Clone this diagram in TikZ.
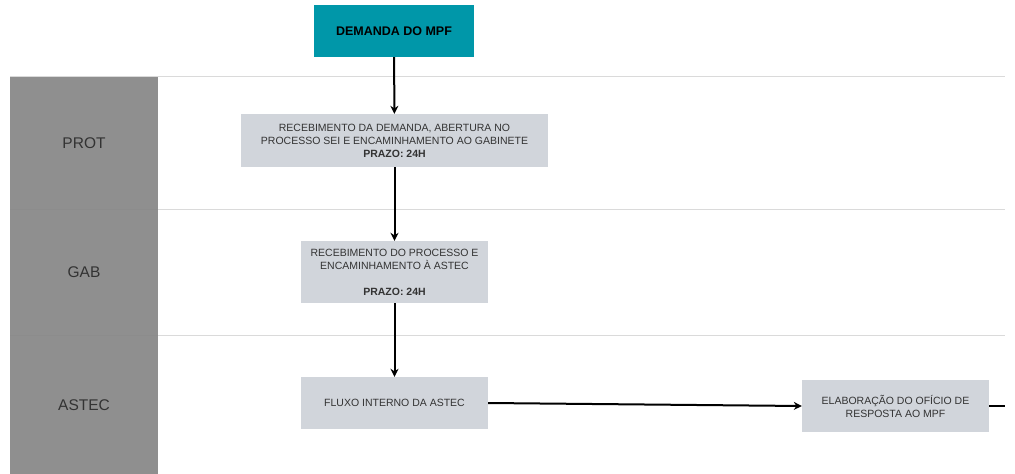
\documentclass[tikz,border=0pt]{standalone}
\usepackage{fontspec}
\setmainfont{Liberation Sans}
\usetikzlibrary{arrows.meta}

\definecolor{lanegray}{HTML}{8F8F8F}
\definecolor{rulegray}{HTML}{DADADA}
\definecolor{boxgray}{HTML}{D1D5DB}
\definecolor{demteal}{HTML}{0097A9}
\definecolor{txtgray}{HTML}{333333}

\tikzset{
  procbox/.style={fill=boxgray, text=txtgray, align=center, inner sep=0pt,
    font=\fontsize{10.5}{13}\selectfont},
  startbox/.style={fill=demteal, text=black, align=center, inner sep=0pt,
    font=\fontsize{12.5}{14}\selectfont\bfseries},
  lanelabel/.style={text=black!80, font=\fontsize{15.5}{17}\selectfont},
  flow/.style={line width=2pt, -{Stealth[length=8pt,width=8pt]}}
}

\begin{document}
\begin{tikzpicture}[x=1pt,y=-1pt] %Fluxo da demanda do MPF
            \useasboundingbox (0,0) rectangle (1015,474);

            % raias
            \fill[lanegray] (10,76) rectangle (158,474);
            \draw[rulegray, line width=1pt] (10,76) -- (1005,76);
            \draw[rulegray, line width=1pt] (158,209) -- (1005,209);
            \draw[rulegray, line width=1pt] (158,335) -- (1005,335);
            \draw[black!45, line width=0.8pt] (10,209) -- (158,209);
            \draw[black!45, line width=0.8pt] (10,335) -- (158,335);
            \node[lanelabel] (prot) at (84,143) {PROT};
            \node[lanelabel] (gab) at (84,272) {GAB};
            \node[lanelabel] (astec) at (84,405) {ASTEC};

            % etapas
            \node[startbox, minimum width=160pt, minimum height=52pt] (dem) at (394,31) {DEMANDA DO MPF};
            \node[procbox, minimum width=307pt, minimum height=53pt] (receb) at (394.5,140.5)
              {RECEBIMENTO DA DEMANDA, ABERTURA NO\\PROCESSO SEI E ENCAMINHAMENTO AO GABINETE\\\textbf{PRAZO: 24H}};
            \node[procbox, minimum width=187pt, minimum height=62pt] (encam) at (394.5,272)
              {RECEBIMENTO DO PROCESSO E\\ENCAMINHAMENTO À ASTEC\\[13pt]\textbf{PRAZO: 24H}};
            \node[procbox, minimum width=187pt, minimum height=52pt] (fluxo) at (394.5,403)
              {FLUXO INTERNO DA ASTEC};
            \node[procbox, minimum width=187pt, minimum height=52pt] (oficio) at (895.5,406)
              {ELABORAÇÃO DO OFÍCIO DE\\RESPOSTA AO MPF};
            \coordinate (saida) at (1005,406);

            % ligacoes
            \draw[flow] (dem) -- (receb);
            \draw[flow] (receb) -- (encam);
            \draw[flow] (encam) -- (fluxo);
            \draw[flow] (fluxo.east) -- (oficio.west);
            \draw[line width=2pt] (oficio.east) -- (saida);
        \end{tikzpicture}
\end{document}
